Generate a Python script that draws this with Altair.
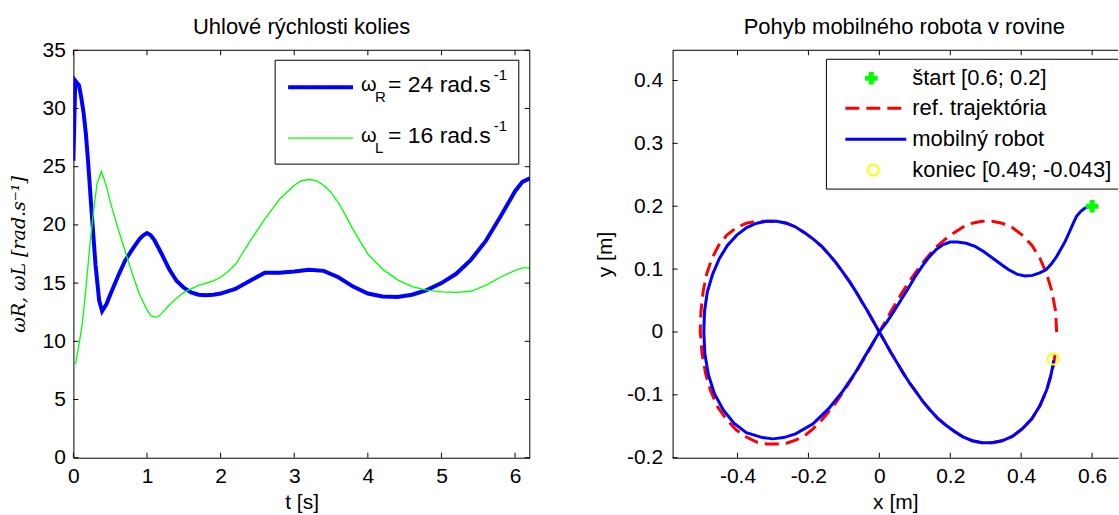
import altair as alt
import pandas as pd

FONT = "Liberation Sans"

# ---------------- left panel data: wheel angular velocities ----------------
t_R = [0, 0.025, 0.05, 0.075, 0.1, 0.137, 0.17, 0.2, 0.25, 0.3, 0.35, 0.39, 0.45, 0.5,
       0.6, 0.7, 0.8, 0.9, 0.95, 1.0, 1.05, 1.1, 1.2, 1.3, 1.4, 1.5, 1.6, 1.7, 1.8, 1.9,
       2.0, 2.2, 2.4, 2.6, 2.8, 3.0, 3.2, 3.4, 3.6, 3.8, 4.0, 4.2, 4.4, 4.6, 4.8, 5.0,
       5.2, 5.4, 5.6, 5.8, 6.0, 6.1, 6.2]
w_R = [25.5, 32.4, 32.2, 32.0, 31.2, 29.7, 27.8, 25.4, 20.9, 16.6, 13.5, 12.6, 13.2, 14.0,
       15.5, 16.9, 17.9, 18.8, 19.1, 19.3, 19.1, 18.7, 17.5, 16.2, 15.2, 14.6, 14.2, 14.0, 13.95, 14.0,
       14.1, 14.5, 15.2, 15.9, 15.9, 16.0, 16.15, 16.05, 15.5, 14.7, 14.1, 13.85, 13.8, 14.0, 14.4, 15.0,
       15.8, 17.0, 18.6, 20.7, 22.9, 23.7, 24.0]

t_L = [0, 0.03, 0.07, 0.12, 0.17, 0.22, 0.27, 0.32, 0.38, 0.45, 0.5, 0.6, 0.7, 0.8, 0.9,
       1.0, 1.05, 1.1, 1.15, 1.2, 1.3, 1.4, 1.5, 1.6, 1.7, 1.8, 1.9, 2.0, 2.1, 2.2, 2.4,
       2.6, 2.8, 3.0, 3.1, 3.2, 3.3, 3.4, 3.5, 3.6, 3.7, 3.8, 4.0, 4.2, 4.4, 4.6, 4.8,
       5.0, 5.2, 5.4, 5.6, 5.8, 6.0, 6.1, 6.2]
w_L = [8.0, 8.1, 9.5, 11.5, 14.5, 18.0, 21.0, 23.5, 24.6, 23.3, 22.0, 19.8, 17.8, 15.8, 14.0,
       12.7, 12.2, 12.1, 12.1, 12.4, 13.1, 13.7, 14.2, 14.5, 14.8, 15.0, 15.2, 15.5, 16.0, 16.6, 18.6,
       20.5, 22.2, 23.4, 23.8, 23.9, 23.8, 23.4, 22.8, 21.9, 20.8, 19.6, 17.5, 16.2, 15.3, 14.7, 14.4,
       14.25, 14.2, 14.3, 14.8, 15.5, 16.1, 16.3, 16.3]

t_ticks = [0, 1, 2, 3, 4, 5, 6]
w_ticks = [0, 5, 10, 15, 20, 25, 30, 35]

# ---------------- right panel data: robot motion in the plane ----------------
ref_x = [0.500, 0.497, 0.487, 0.472, 0.453, 0.430, 0.403, 0.375, 0.346, 0.318, 0.289, 0.262, 0.236,
         0.211, 0.187, 0.164, 0.143, 0.122, 0.103, 0.084, 0.067, 0.050, 0.033, 0.016, 0.000,
         -0.016, -0.033, -0.050, -0.067, -0.084, -0.103, -0.122, -0.143, -0.164, -0.187, -0.211,
         -0.236, -0.262, -0.289, -0.318, -0.346, -0.375, -0.403, -0.430, -0.455, -0.475, -0.490,
         -0.500, -0.505, -0.503, -0.497, -0.487, -0.472, -0.453, -0.430, -0.403, -0.375, -0.346,
         -0.318, -0.289, -0.262, -0.236, -0.211, -0.187, -0.164, -0.143, -0.122, -0.103, -0.084,
         -0.067, -0.050, -0.033, -0.016, 0.000, 0.016, 0.033, 0.050, 0.067, 0.084, 0.103, 0.122,
         0.143, 0.164, 0.187, 0.211, 0.236, 0.262, 0.289, 0.318, 0.346, 0.375, 0.403, 0.430,
         0.453, 0.472, 0.487, 0.496]
ref_y = [0.000, 0.033, 0.064, 0.092, 0.117, 0.138, 0.154, 0.166, 0.173, 0.176, 0.176, 0.173, 0.167,
         0.158, 0.148, 0.137, 0.124, 0.110, 0.095, 0.080, 0.065, 0.049, 0.033, 0.016, 0.000,
         -0.016, -0.033, -0.049, -0.065, -0.080, -0.096, -0.112, -0.127, -0.141, -0.154, -0.165,
         -0.172, -0.177, -0.178, -0.178, -0.175, -0.167, -0.156, -0.140, -0.120, -0.095, -0.066,
         -0.034, 0.000, 0.033, 0.064, 0.092, 0.117, 0.138, 0.154, 0.166, 0.173, 0.176, 0.176,
         0.176, 0.173, 0.167, 0.158, 0.148, 0.137, 0.124, 0.110, 0.095, 0.080, 0.065, 0.049,
         0.033, 0.016, 0.000, -0.016, -0.033, -0.049, -0.065, -0.080, -0.095, -0.110, -0.124,
         -0.137, -0.148, -0.158, -0.167, -0.173, -0.176, -0.176, -0.173, -0.166, -0.154, -0.138,
         -0.117, -0.092, -0.064, -0.035]

rob_x = [0.600, 0.590, 0.580, 0.568, 0.556, 0.546, 0.536, 0.524, 0.512, 0.500, 0.486, 0.470, 0.452,
         0.432, 0.410, 0.388, 0.365, 0.342, 0.318, 0.294, 0.270, 0.245, 0.220, 0.200, 0.180, 0.160,
         0.140, 0.120, 0.100, 0.080, 0.060, 0.040, 0.020, 0.000, -0.020, -0.040, -0.067, -0.103,
         -0.143, -0.187, -0.236, -0.270, -0.300, -0.330, -0.375, -0.410, -0.440, -0.465, -0.482,
         -0.492, -0.495, -0.493, -0.485, -0.470, -0.451, -0.428, -0.402, -0.374, -0.346, -0.318,
         -0.289, -0.262, -0.236, -0.211, -0.187, -0.164, -0.143, -0.122, -0.103, -0.084, -0.067,
         -0.050, -0.033, -0.016, 0.000, 0.016, 0.033, 0.050, 0.067, 0.084, 0.103, 0.122, 0.143,
         0.164, 0.187, 0.211, 0.236, 0.262, 0.289, 0.318, 0.346, 0.375, 0.403, 0.430, 0.453,
         0.472, 0.485, 0.492]
rob_y = [0.200, 0.199, 0.197, 0.192, 0.184, 0.172, 0.159, 0.144, 0.132, 0.120, 0.109, 0.099, 0.094,
         0.090, 0.089, 0.092, 0.099, 0.108, 0.118, 0.128, 0.136, 0.141, 0.143, 0.143, 0.139, 0.131,
         0.119, 0.104, 0.087, 0.068, 0.050, 0.032, 0.015, 0.000, -0.019, -0.038, -0.064, -0.094,
         -0.122, -0.146, -0.162, -0.168, -0.170, -0.168, -0.160, -0.145, -0.124, -0.098, -0.068,
         -0.035, 0.000, 0.033, 0.064, 0.092, 0.117, 0.138, 0.154, 0.166, 0.173, 0.176, 0.176,
         0.173, 0.167, 0.158, 0.148, 0.137, 0.124, 0.110, 0.095, 0.080, 0.065, 0.049, 0.033,
         0.016, 0.000, -0.016, -0.033, -0.049, -0.065, -0.080, -0.095, -0.110, -0.124, -0.137,
         -0.148, -0.158, -0.167, -0.173, -0.176, -0.176, -0.173, -0.166, -0.154, -0.138, -0.117,
         -0.092, -0.066, -0.045]

start_x, start_y = [0.6], [0.2]
end_x, end_y = [0.49], [-0.043]

x_ticks = [-0.4, -0.2, 0, 0.2, 0.4, 0.6]
y_ticks = [-0.2, -0.1, 0, 0.1, 0.2, 0.3, 0.4]

title_left = ["Uhlové rýchlosti kolies"]
title_right = ["Pohyb mobilného robota v rovine"]
legend_R = ["ω", "R", "= 24 rad.s", "-1"]
legend_L = ["ω", "L", "= 16 rad.s", "-1"]
legend_right = ["štart [0.6; 0.2]", "ref. trajektória", "mobilný robot", "koniec [0.49; -0.043]"]

# ---------------- helpers ----------------
one = pd.DataFrame({"k": [0]})


def axis(values, title, title_pad, label_pad=8, **kw):
    opts = dict(values=values, title=title, grid=False, ticks=False,
                domainColor="black", domainWidth=1, labelColor="black",
                labelFont=FONT, labelFontSize=21, labelPadding=label_pad,
                labelOverlap=False, labelFlush=False,
                titleFont=FONT, titleFontSize=21, titleFontWeight="normal",
                titleColor="black", titlePadding=title_pad)
    opts.update(kw)
    return alt.Axis(**opts)


def frame_and_ticks(W, H, xs, ys, ax_x, ax_y, xt, yt, right_side=True):
    layers = []
    dx = pd.DataFrame({"v": xt})
    dy = pd.DataFrame({"v": yt})
    layers.append(alt.Chart(one).mark_rule(color="black", strokeWidth=1).encode(
        x=alt.value(0), x2=alt.value(W), y=alt.value(0)))
    if right_side:
        layers.append(alt.Chart(one).mark_rule(color="black", strokeWidth=1).encode(
            x=alt.value(W), y=alt.value(0), y2=alt.value(H)))
    for y0, y1 in [(H, H - 5), (0, 5)]:
        layers.append(alt.Chart(dx).mark_rule(color="black", strokeWidth=1).encode(
            x=alt.X("v:Q", scale=xs, axis=ax_x), y=alt.value(y0), y2=alt.value(y1)))
    sides = [(0, 5)] + ([(W, W - 5)] if right_side else [])
    for x0, x1 in sides:
        layers.append(alt.Chart(dy).mark_rule(color="black", strokeWidth=1).encode(
            y=alt.Y("v:Q", scale=ys, axis=ax_y), x=alt.value(x0), x2=alt.value(x1)))
    return layers


def panel_title(txt, xc):
    return alt.Chart(pd.DataFrame({"s": txt})).mark_text(
        align="center", baseline="alphabetic", font=FONT, fontSize=22, color="black").encode(
        x=alt.value(xc), y=alt.value(-16), text="s:N")


# ---------------- left panel ----------------
LW, LH = 457, 408
xs_l = alt.Scale(domain=[0, 6.2], nice=False, zero=False)
ys_l = alt.Scale(domain=[0, 35], nice=False, zero=False)
ax_xl = axis(t_ticks, "t [s]", 5, format="d")
ax_yl = axis(w_ticks, "ωR, ωL [rad.s⁻¹]", 14, format="d", titleFont="DejaVu Serif",
             titleFontStyle="italic", titleFontSize=19)

dfR = pd.DataFrame({"t": t_R, "w": w_R, "i": range(len(t_R))})
dfL = pd.DataFrame({"t": t_L, "w": w_L, "i": range(len(t_L))})

line_R = alt.Chart(dfR).mark_line(color="#0000ff", strokeWidth=4, clip=True).encode(
    x=alt.X("t:Q", scale=xs_l, axis=ax_xl), y=alt.Y("w:Q", scale=ys_l, axis=ax_yl),
    order="i:Q")
line_L = alt.Chart(dfL).mark_line(color="#00ff00", strokeWidth=1.3, clip=True).encode(
    x=alt.X("t:Q", scale=xs_l, axis=ax_xl), y=alt.Y("w:Q", scale=ys_l, axis=ax_yl),
    order="i:Q")

leg_box_l = alt.Chart(one).mark_rect(fill="white", stroke="black", strokeWidth=1).encode(
    x=alt.value(202), x2=alt.value(446), y=alt.value(10), y2=alt.value(114))
leg_line_R = alt.Chart(one).mark_rule(color="#0000ff", strokeWidth=4).encode(
    x=alt.value(215), x2=alt.value(280), y=alt.value(37))
leg_line_L = alt.Chart(one).mark_rule(color="#00ff00", strokeWidth=1.3).encode(
    x=alt.value(215), x2=alt.value(280), y=alt.value(88))


def leg_text(parts, yc):
    out = []
    specs = [(288, yc, 20), (302, yc + 12, 15), (315, yc, 23), (421, yc - 10, 15)]
    for txt, (px, py, fs) in zip(parts, specs):
        out.append(alt.Chart(pd.DataFrame({"s": [txt]})).mark_text(
            align="left", baseline="middle", font=FONT, fontSize=fs, color="black").encode(
            x=alt.value(px), y=alt.value(py), text="s:N"))
    return out


left = alt.layer(
    line_R, line_L, leg_box_l, leg_line_R, leg_line_L,
    *leg_text(legend_R, 35), *leg_text(legend_L, 86),
    *frame_and_ticks(LW, LH, xs_l, ys_l, ax_xl, ax_yl, t_ticks, w_ticks, True),
    panel_title(title_left, LW / 2)
).properties(width=LW, height=LH)

# ---------------- right panel ----------------
RW, RH = 446, 408
xs_r = alt.Scale(domain=[-0.583, 0.673], nice=False, zero=False)
ys_r = alt.Scale(domain=[-0.2, 0.448], nice=False, zero=False)
minus_fix = "replace(format(datum.value, '~g'), '\u2212', '-')"
ax_xr = axis(x_ticks, "x [m]", 5, labelExpr=minus_fix)
ax_yr = axis(y_ticks, "y [m]", 11, label_pad=10, labelExpr=minus_fix)

dfRef = pd.DataFrame({"x": ref_x, "y": ref_y, "i": range(len(ref_x))})
dfRob = pd.DataFrame({"x": rob_x, "y": rob_y, "i": range(len(rob_x))})

ref_line = alt.Chart(dfRef).mark_line(color="#ff0000", strokeWidth=3, strokeDash=[14, 7],
                                      clip=True).encode(
    x=alt.X("x:Q", scale=xs_r, axis=ax_xr), y=alt.Y("y:Q", scale=ys_r, axis=ax_yr),
    order="i:Q")
rob_line = alt.Chart(dfRob).mark_line(color="#0000ff", strokeWidth=3, clip=True).encode(
    x=alt.X("x:Q", scale=xs_r, axis=ax_xr), y=alt.Y("y:Q", scale=ys_r, axis=ax_yr),
    order="i:Q")
start_pt = alt.Chart(pd.DataFrame({"x": start_x, "y": start_y})).mark_point(
    shape="cross", filled=True, color="#00ff00", size=160, opacity=1).encode(
    x=alt.X("x:Q", scale=xs_r, axis=ax_xr), y=alt.Y("y:Q", scale=ys_r, axis=ax_yr))
end_pt = alt.Chart(pd.DataFrame({"x": end_x, "y": end_y})).mark_point(
    shape="circle", filled=False, color="#ffff00", size=120, strokeWidth=2, opacity=1).encode(
    x=alt.X("x:Q", scale=xs_r, axis=ax_xr), y=alt.Y("y:Q", scale=ys_r, axis=ax_yr))

leg_box_r = alt.Chart(one).mark_rect(fill="white", stroke="black", strokeWidth=1,
                                     clip=True).encode(
    x=alt.value(154), x2=alt.value(470), y=alt.value(9), y2=alt.value(139))
leg_star = alt.Chart(one).mark_point(shape="cross", filled=True, color="#00ff00", size=160,
                                     opacity=1).encode(x=alt.value(199), y=alt.value(28))
leg_ref = alt.Chart(one).mark_rule(color="#ff0000", strokeWidth=3, strokeDash=[14, 7]).encode(
    x=alt.value(173), x2=alt.value(234), y=alt.value(58))
leg_rob = alt.Chart(one).mark_rule(color="#0000ff", strokeWidth=3).encode(
    x=alt.value(173), x2=alt.value(234), y=alt.value(89))
leg_end = alt.Chart(one).mark_point(shape="circle", filled=False, color="#ffff00", size=120,
                                    strokeWidth=2, opacity=1).encode(
    x=alt.value(201), y=alt.value(120))
leg_texts_r = [
    alt.Chart(pd.DataFrame({"s": [s]})).mark_text(
        align="left", baseline="middle", font=FONT, fontSize=22, color="black").encode(
        x=alt.value(240), y=alt.value(yy), text="s:N")
    for s, yy in zip(legend_right, [28, 58, 89, 120])
]

right = alt.layer(
    ref_line, rob_line, start_pt, end_pt,
    leg_box_r, leg_star, leg_ref, leg_rob, leg_end, *leg_texts_r,
    *frame_and_ticks(RW, RH, xs_r, ys_r, ax_xr, ax_yr, x_ticks, y_ticks, False),
    panel_title(title_right, 232)
).properties(width=RW, height=RH)

chart = alt.hconcat(left, right, spacing=143, bounds="flush").properties(
    padding={"left": 8.5, "top": 16, "right": 0, "bottom": 0}
).configure_view(stroke=None)

chart.save("out.html", embed_options={"renderer": "svg", "actions": False})
